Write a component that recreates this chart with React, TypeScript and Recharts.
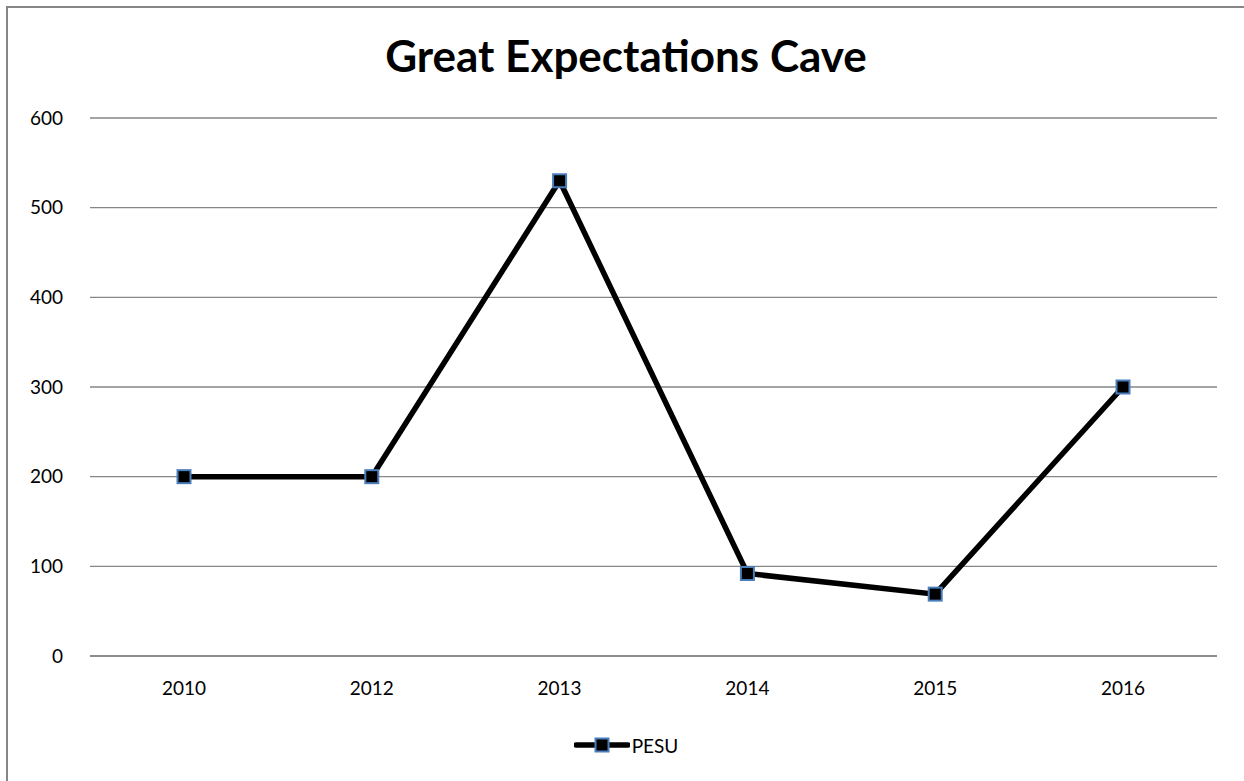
import React from 'react';
import { LineChart, Line, XAxis, YAxis, CartesianGrid, Legend } from 'recharts';

const years = ['2010', '2012', '2013', '2014', '2015', '2016'];
const pesu = [200, 200, 530, 92, 69, 300];
const yTicks = [0, 100, 200, 300, 400, 500, 600];
const seriesName = 'PESU';
const title = 'Great Expectations Cave';

const data = years.map((y, i) => ({ year: y, PESU: pesu[i] }));

const FONT = 'Lato, "Noto Sans", sans-serif';
const W = 1236;
const H = 773;

const SquareDot = (props: any) => {
  const { cx, cy } = props;
  if (cx == null || cy == null) return null;
  return (
    <rect x={cx - 6.5} y={cy - 6.5} width={13} height={13} fill="#000" stroke="#4a7ebb" strokeWidth={2} />
  );
};

const renderLegend = () => (
  <div style={{ display: 'flex', justifyContent: 'center', alignItems: 'center', height: 20, fontFamily: FONT, fontSize: 19 }}>
    <svg width={56} height={20} style={{ display: 'block' }}>
      <line x1={2} y1={10} x2={54} y2={10} stroke="#000" strokeWidth={5.5} strokeLinecap="round" />
      <rect x={21.5} y={3.5} width={13} height={13} fill="#000" stroke="#4a7ebb" strokeWidth={2} />
    </svg>
    <span style={{ marginLeft: 2, color: '#000' }}>{seriesName}</span>
  </div>
);

export default function App() {
  return (
    <div style={{ position: 'absolute', left: 0, top: 0, width: 1244, height: 781, overflow: 'hidden', background: '#fff' }}>
      <svg width={1244} height={781} style={{ position: 'absolute', left: 0, top: 0 }}>
        <rect x={6} y={6} width={2} height={775} fill="#868686" />
        <rect x={6} y={6} width={1238} height={2} fill="#868686" />
      </svg>
      <div style={{ position: 'absolute', left: 8, top: 8, width: W, height: H }}>
        <LineChart
          width={W}
          height={H}
          data={data}
          margin={{ top: 110, right: 27, left: 22, bottom: 75 }}
          style={{ fontFamily: FONT }}
        >
          <CartesianGrid vertical={false} stroke="#868686" strokeWidth={1.3} />
          <XAxis
            dataKey="year"
            padding={{ left: 94, right: 94 }}
            axisLine={{ stroke: '#868686', strokeWidth: 1.3 }}
            tickLine={false}
            tickSize={0}
            tickMargin={26}
            height={30}
            tick={{ fill: '#000', fontSize: 19, fontFamily: FONT }}
          />
          <YAxis
            domain={[0, 600]}
            ticks={yTicks}
            width={60}
            axisLine={false}
            tickLine={false}
            tickSize={0}
            tickMargin={27}
            tick={{ fill: '#000', fontSize: 19, fontFamily: FONT }}
          />
          <Legend verticalAlign="bottom" content={renderLegend} wrapperStyle={{ left: 0, width: W, bottom: 26 }} />
          <Line
            type="linear"
            dataKey="PESU"
            name={seriesName}
            stroke="#000"
            strokeWidth={5.5}
            dot={<SquareDot />}
            activeDot={false}
            isAnimationActive={false}
          />
        </LineChart>
        <svg width={W} height={100} style={{ position: 'absolute', left: 0, top: 0, pointerEvents: 'none' }}>
          <text x={618} y={64} textAnchor="middle" fontFamily={FONT} fontWeight={700} fontSize={44} fill="#000">
            {title}
          </text>
        </svg>
      </div>
    </div>
  );
}
